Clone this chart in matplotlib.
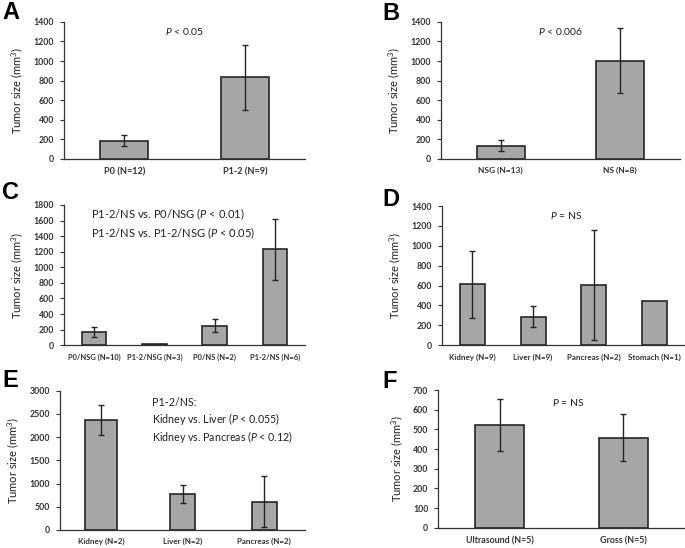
import matplotlib.pyplot as plt
import numpy as np

plt.rcParams["font.family"] = ["Lato", "DejaVu Sans"]
plt.rcParams["mathtext.fontset"] = "custom"
plt.rcParams["mathtext.it"] = "Lato:italic"
plt.rcParams["mathtext.rm"] = "Lato"

# -------- data --------
a_labels = ["P0 (N=12)", "P1-2 (N=9)"]
a_mean = [187, 834]
a_err = [58, 330]

b_labels = ["NSG (N=13)", "NS (N=8)"]
b_mean = [136, 1001]
b_err = [55, 332]

c_labels = ["P0/NSG (N=10)", "P1-2/NSG (N=3)", "P0/NS (N=2)", "P1-2/NS (N=6)"]
c_mean = [171, 13, 253, 1234]
c_err = [68, 0, 88, 392]

d_labels = ["Kidney (N=9)", "Liver (N=9)", "Pancreas (N=2)", "Stomach (N=1)"]
d_mean = [613, 288, 606, 445]
d_err = [337, 109, 554, 0]

e_labels = ["Kidney (N=2)", "Liver (N=2)", "Pancreas (N=2)"]
e_mean = [2368, 775, 610]
e_err = [330, 197, 556]

f_labels = ["Ultrasound (N=5)", "Gross (N=5)"]
f_mean = [522, 458]
f_err = [134, 120]

W, H = 685, 548

# letter, labels, means, errors, ymax, step, axes rect, bar width, xtick size, letter pos (px)
panels = [
    ("A", a_labels, a_mean, a_err, 1400, 200, [0.0934, 0.710, 0.352, 0.250], 0.4, 6.6, (2, 1)),
    ("B", b_labels, b_mean, b_err, 1400, 200, [0.6438, 0.710, 0.349, 0.250], 0.4, 6.0, (382, 2)),
    ("C", c_labels, c_mean, c_err, 1800, 200, [0.0934, 0.370, 0.352, 0.256], 0.41, 5.4, (2, 181)),
    ("D", d_labels, d_mean, d_err, 1400, 200, [0.6452, 0.370, 0.3548, 0.254], 0.41, 5.8, (382, 188)),
    ("E", e_labels, e_mean, e_err, 3000, 500, [0.0876, 0.033, 0.358, 0.254], [0.4, 0.3, 0.3], 5.8, (2, 369)),
    ("F", f_labels, f_mean, f_err, 700, 100, [0.6394, 0.037, 0.3606, 0.251], 0.4, 6.4, (382, 370)),
]

notes = {
    "A": (0.50, 0.93, "$P$ < 0.05", "center", 7.5, 1.3),
    "B": (0.50, 0.93, "$P$ < 0.006", "center", 7.5, 1.3),
    "C": (0.11, 0.985, "P1-2/NS vs. P0/NSG ($P$ < 0.01)\nP1-2/NS vs. P1-2/NSG ($P$ < 0.05)", "left", 8.0, 1.3),
    "D": (0.51, 0.93, "$P$ = NS", "center", 7.5, 1.3),
    "E": (0.375, 0.955, "P1-2/NS:\nKidney vs. Liver ($P$ < 0.055)\nKidney vs. Pancreas ($P$ < 0.12)", "left", 7.7, 1.22),
    "F": (0.525, 0.91, "$P$ = NS", "center", 7.5, 1.3),
}

fig = plt.figure(figsize=(W / 100, H / 100), dpi=100)

for letter, labels, mean, err, ymax, step, rect, width, xfs, lpos in panels:
    ax = fig.add_axes(rect)
    x = np.arange(len(labels))
    ax.bar(x, mean, width=width, color="#a6a6a6", edgecolor="#262626", linewidth=1.2, zorder=2)
    errs = [e if e > 0 else np.nan for e in err]
    ax.errorbar(x, mean, yerr=errs, fmt="none", ecolor="#262626", elinewidth=1.0,
                capsize=2.5, capthick=1.0, zorder=3)
    ax.set_xlim(-0.5, len(labels) - 0.5)
    ax.set_ylim(0, ymax)
    ax.set_yticks(np.arange(0, ymax + 1, step))
    ax.set_xticks(x)
    ax.set_xticklabels(labels, fontsize=xfs, fontweight="bold", color="#333333")
    ax.tick_params(axis="y", labelsize=6.3, length=3, width=0.8, colors="#333333", direction="out", pad=4)
    for t in ax.get_yticklabels():
        t.set_fontweight("bold")
    ax.tick_params(axis="x", length=0, pad=6)
    for s in ["top", "right"]:
        ax.spines[s].set_visible(False)
    for s in ["left", "bottom"]:
        ax.spines[s].set_color("#333333")
        ax.spines[s].set_linewidth(0.9)
    ax.set_ylabel("Tumor size (mm$^3$)", fontsize=8, color="#222222", labelpad=6)
    nx, ny, txt, ha, fs, ls = notes[letter]
    ax.text(nx, ny, txt, transform=ax.transAxes, ha=ha, va="top" if "\n" in txt else "center",
            fontsize=fs, color="#222222", linespacing=ls)
    fig.text(lpos[0] / W, 1 - lpos[1] / H, letter, fontsize=17, fontweight="bold",
             family="Liberation Sans", ha="left", va="top")

fig.savefig("out.png", dpi=100)
